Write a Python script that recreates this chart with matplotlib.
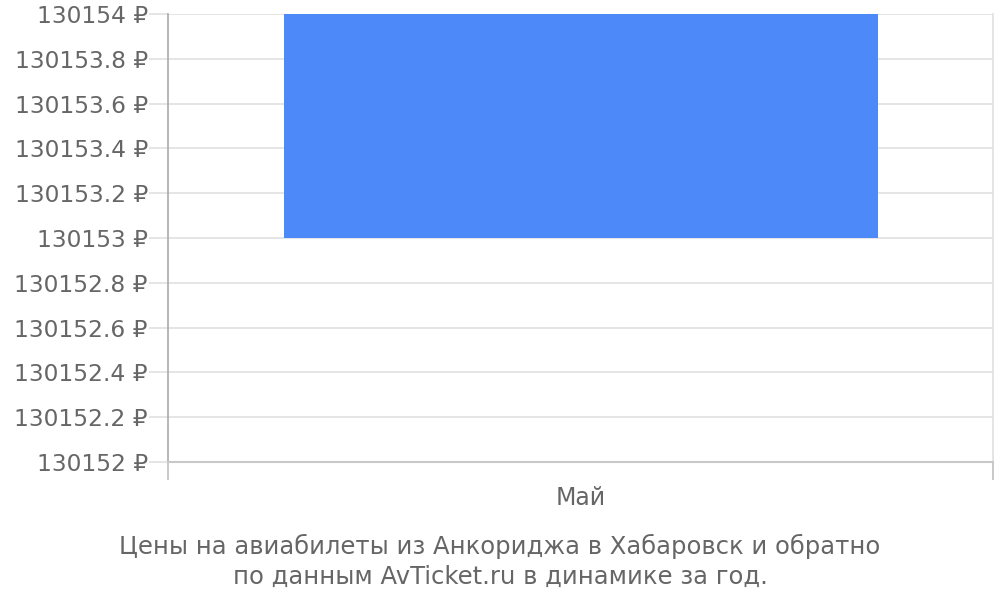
import matplotlib.pyplot as plt

months = ['Май']
price_low = [130153]
price_high = [130154]
y_ticks = [130152, 130152.2, 130152.4, 130152.6, 130152.8, 130153,
           130153.2, 130153.4, 130153.6, 130153.8, 130154]
title = "Цены на авиабилеты из Анкориджа в Хабаровск и обратно\nпо данным AvTicket.ru в динамике за год."

text_color = '#666666'


def rub(v):
    s = f"{v:.1f}".rstrip('0').rstrip('.')
    return f"{s} ₽"


fig = plt.figure(figsize=(10, 6), dpi=100)
ax = fig.add_axes([0.168, 0.23, 0.825, 0.7467])

x = list(range(len(months)))
heights = [h - l for l, h in zip(price_low, price_high)]
ax.bar(x, heights, bottom=price_low, width=0.72, color='#4d89f9', zorder=3)

ax.set_xlim(-0.5, len(months) - 0.5)
ax.set_ylim(y_ticks[0], y_ticks[-1])
ax.set_yticks(y_ticks)
ax.set_yticklabels([rub(v) for v in y_ticks])
ax.grid(axis='y', color='#e0e0e0', linewidth=1.2, zorder=0)

ax.set_xticks(x)
ax.set_xticklabels(months)
ax.set_xticks([i - 0.5 for i in range(len(months) + 1)], minor=True)
ax.tick_params(axis='x', which='major', length=0, pad=17, labelsize=17, labelcolor=text_color)
ax.tick_params(axis='x', which='minor', length=13, width=1.2, color='#c0c0c0')
ax.tick_params(axis='y', length=14, width=1.2, color='#e0e0e0', pad=0.5,
               labelsize=16.8, labelcolor=text_color)

ax.spines['top'].set_visible(False)
ax.spines['left'].set_color('#aaaaaa')
ax.spines['left'].set_linewidth(1.2)
ax.spines['right'].set_color('#e0e0e0')
ax.spines['right'].set_linewidth(1.2)
ax.spines['bottom'].set_color('#c8c8c8')
ax.spines['bottom'].set_linewidth(1.5)

fig.text(0.5, 0.018, title, ha='center', va='bottom', fontsize=17.5,
         color=text_color, linespacing=1.35)

fig.savefig('out.png', dpi=100)
